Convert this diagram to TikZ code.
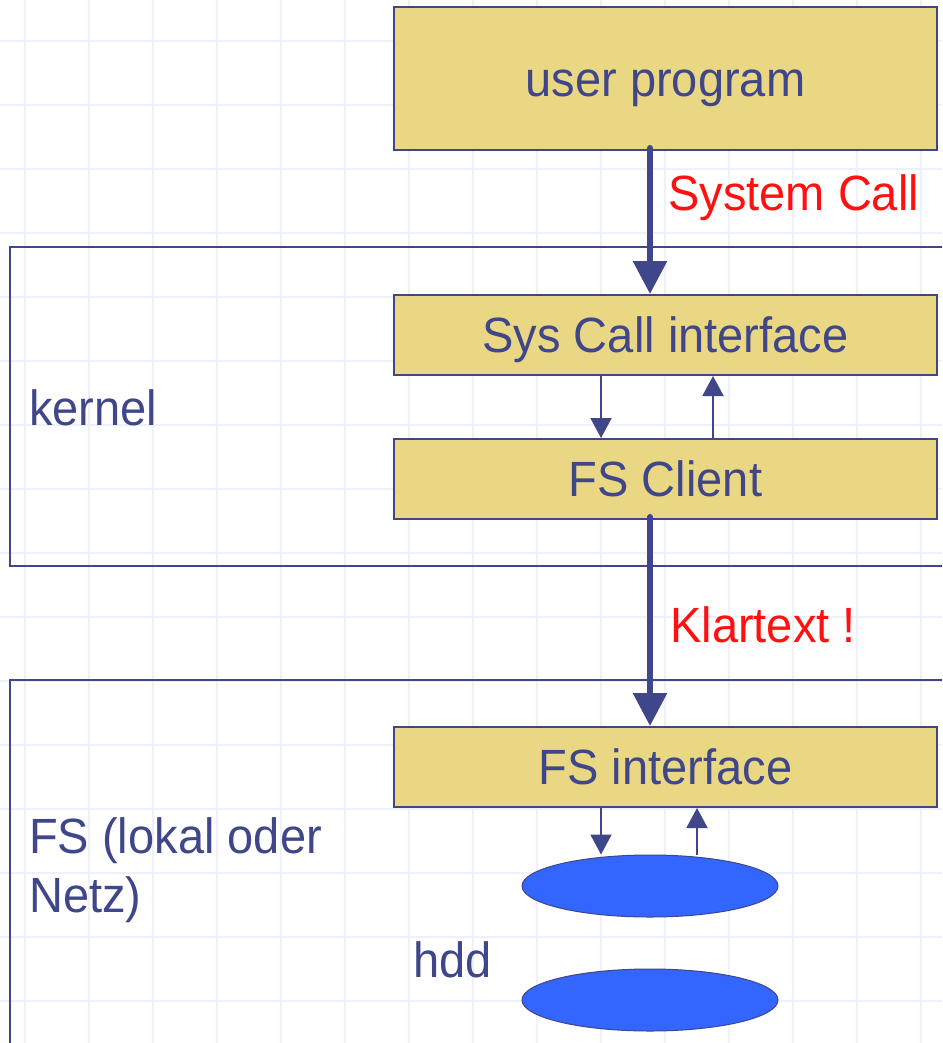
\documentclass[tikz,border=0pt]{standalone}
\usepackage{fontspec}
\setmainfont[FakeStretch=0.95]{Liberation Sans}
\usetikzlibrary{arrows.meta,shapes.geometric}
\definecolor{boxfill}{HTML}{EAD784}
\definecolor{navy}{HTML}{3F468A}
\definecolor{gridc}{HTML}{EEF1FC}
\definecolor{diskfill}{HTML}{3366FF}
\definecolor{redlab}{HTML}{FF1111}
\tikzset{
  bigfont/.style={font=\fontsize{49.5}{59}\selectfont},
  box/.style={draw=navy, line width=2pt, fill=boxfill, text=navy, bigfont,
    minimum width=543pt, minimum height=80pt, inner sep=0pt,
    text height=35.4pt, text depth=0pt},
  region/.style={draw=navy, line width=2pt, inner sep=0pt},
  disk/.style={ellipse, draw=navy, line width=1pt, fill=diskfill,
    minimum width=256pt, minimum height=62pt, inner sep=0pt},
  label/.style={text=navy, bigfont, inner sep=0pt, anchor=base west},
  redlabel/.style={text=redlab, bigfont, inner sep=0pt, anchor=base west},
  thickarrow/.style={draw=navy, line width=6pt, line cap=round,
    -{Triangle[length=33pt,width=33pt]}},
  thinarrow/.style={draw=navy, line width=2pt,
    -{Triangle[length=20pt,width=21pt]}},
  gridline/.style={draw=gridc, line width=2pt}
}
\begin{document}
\begin{tikzpicture}[x=1pt,y=-1pt]
\useasboundingbox (0,0) rectangle (942,1043);
\clip (0,0) rectangle (942,1043);
\fill[white] (0,0) rectangle (942,1043);
% grid
\foreach \x in {25,89,...,921} \draw[gridline] (\x,0) -- (\x,1043);
\foreach \y in {41,105,...,1001} \draw[gridline] (0,\y) -- (942,\y);
% regions
\node[region, minimum width=950pt, minimum height=319pt] (kernel) at (485,406.5) {};
\node[region, minimum width=950pt, minimum height=400pt] (fsreg) at (485,879.5) {};
% boxes
\node[box, minimum height=143pt] (user) at (665.5,78.5) {user program};
\node[box] (sys) at (665.5,335) {Sys Call interface};
\node[box] (fscl) at (665.5,479) {FS Client};
\node[box] (fsif) at (665.5,767) {FS interface};
% disks
\node[disk] (d1) at (650,886) {};
\node[disk] (d2) at (650,1000) {};
% labels
\node[label] (kl) at (29,425) {kernel};
\node[label] (fs1) at (29,853) {FS (lokal oder};
\node[label] (fs2) at (29,912) {Netz)};
\node[label] (hdd) at (413,977) {hdd};
\node[redlabel] (sc) at (668,210) {System Call};
\node[redlabel] (kt) at (670,642) {Klartext !};
% arrows
\draw[thickarrow] ([xshift=-15.5pt,yshift=3pt]user.south) -- ([xshift=-15.5pt]sys.north);
\draw[thickarrow] ([xshift=-15.5pt,yshift=3pt]fscl.south) -- ([xshift=-15.5pt]fsif.north);
\draw[thinarrow] ([xshift=-64.5pt]sys.south) -- ([xshift=-64.5pt]fscl.north);
\draw[thinarrow] ([xshift=47.5pt]fscl.north) -- ([xshift=47.5pt]sys.south);
\draw[thinarrow] ([xshift=-64.5pt]fsif.south) -- ([xshift=-49pt]d1.north);
\draw[thinarrow] ([xshift=47pt]d1.north) -- ([xshift=31.5pt]fsif.south);
\end{tikzpicture}
\end{document}
